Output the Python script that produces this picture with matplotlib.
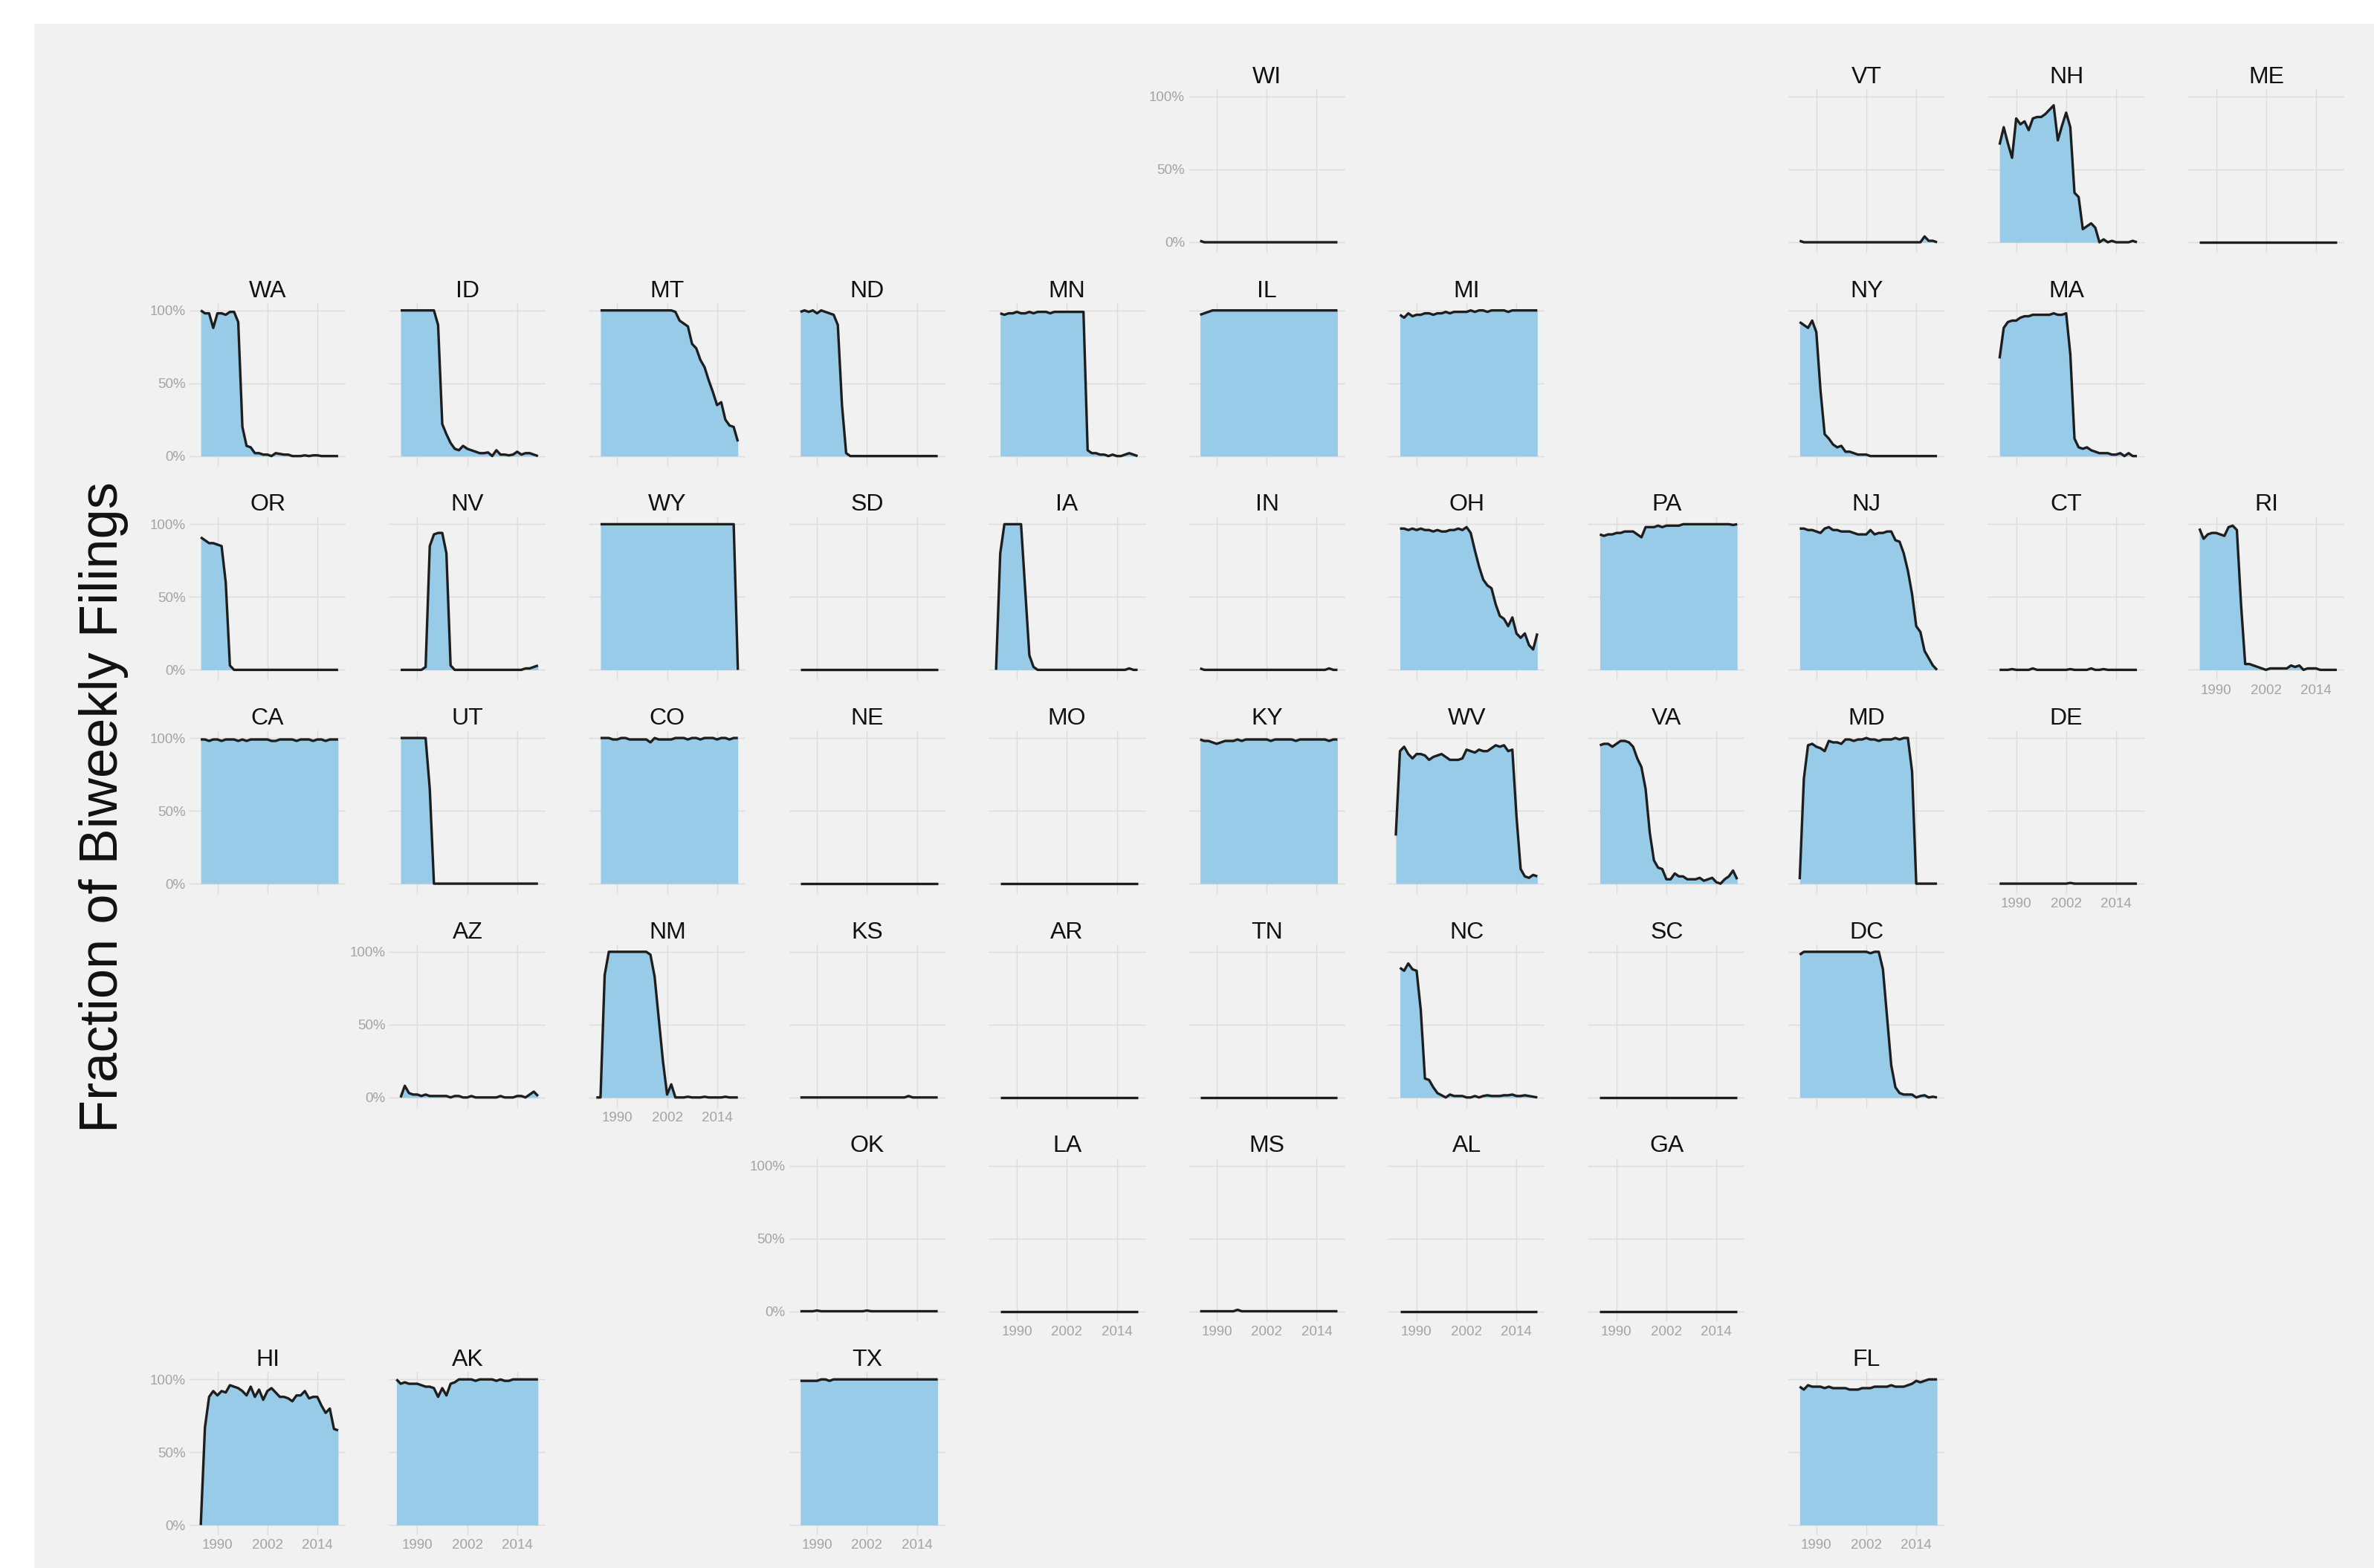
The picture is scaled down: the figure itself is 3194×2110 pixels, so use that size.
import numpy as np
import matplotlib
matplotlib.use("Agg")
import matplotlib.pyplot as plt
from matplotlib.patches import Rectangle

# ---------------------------------------------------------------------------
# Data: share of filings made biweekly, one value per year (1985-2019).
# None marks a year with no data for that state.
# ---------------------------------------------------------------------------
YEARS = list(range(1985, 2020))
X_TICKS = [1990, 2002, 2014]
Y_TICKS = [0.0, 0.5, 1.0]
Y_TICK_LABELS = ["0%", "50%", "100%"]
Y_LABEL = "Fraction of Biweekly Filings"

WI = [None, 0.01, 0.0, 0.0, 0.0, 0.0, 0.0, 0.0, 0.0, 0.0, 0.0,
      0.0, 0.0, 0.0, 0.0, 0.0, 0.0, 0.0, 0.0, 0.0, 0.0,
      0.0, 0.0, 0.0, 0.0, 0.0, 0.0, 0.0, 0.0, 0.0, 0.0,
      0.0, 0.0, 0.0, 0.0]
VT = [None, 0.01, 0.0, 0.0, 0.0, 0.0, 0.0, 0.0, 0.0, 0.0, 0.0,
      0.0, 0.0, 0.0, 0.0, 0.0, 0.0, 0.0, 0.0, 0.0, 0.0,
      0.0, 0.0, 0.0, 0.0, 0.0, 0.0, 0.0, 0.0, 0.0, 0.0,
      0.04, 0.01, 0.01, 0.0]
NH = [None, 0.67, 0.79, 0.68, 0.58, 0.85, 0.81, 0.83, 0.77, 0.85, 0.86,
      0.86, 0.88, 0.91, 0.94, 0.70, 0.80, 0.89, 0.79, 0.34, 0.31,
      0.09, 0.11, 0.13, 0.10, 0.0, 0.02, 0.0, 0.01, 0.0, 0.0,
      0.0, 0.0, 0.01, 0.0]
ME = [None, 0.0, 0.0, 0.0, 0.0, 0.0, 0.0, 0.0, 0.0, 0.0, 0.0,
      0.0, 0.0, 0.0, 0.0, 0.0, 0.0, 0.0, 0.0, 0.0, 0.0,
      0.0, 0.0, 0.0, 0.0, 0.0, 0.0, 0.0, 0.0, 0.0, 0.0,
      0.0, 0.0, 0.0, 0.0]
WA = [None, 1.0, 0.98, 0.98, 0.88, 0.98, 0.98, 0.97, 0.99, 0.99, 0.92,
      0.20, 0.07, 0.06, 0.02, 0.02, 0.01, 0.01, 0.0, 0.02, 0.015,
      0.01, 0.01, 0.0, 0.0, 0.0, 0.005, 0.0, 0.005, 0.005, 0.0,
      0.0, 0.0, 0.0, 0.0]
ID = [None, 1.0, 1.0, 1.0, 1.0, 1.0, 1.0, 1.0, 1.0, 1.0, 0.90,
      0.22, 0.15, 0.09, 0.05, 0.04, 0.07, 0.05, 0.04, 0.03, 0.02,
      0.02, 0.025, 0.0, 0.04, 0.01, 0.01, 0.005, 0.01, 0.03, 0.01,
      0.02, 0.02, 0.01, 0.0]
MT = [None, 1.0, 1.0, 1.0, 1.0, 1.0, 1.0, 1.0, 1.0, 1.0, 1.0,
      1.0, 1.0, 1.0, 1.0, 1.0, 1.0, 1.0, 1.0, 0.99, 0.93,
      0.91, 0.89, 0.77, 0.74, 0.66, 0.61, 0.52, 0.44, 0.35, 0.37,
      0.25, 0.21, 0.20, 0.10]
ND = [None, 0.99, 1.0, 0.99, 1.0, 0.98, 1.0, 0.99, 0.98, 0.97, 0.90,
      0.35, 0.02, 0.0, 0.0, 0.0, 0.0, 0.0, 0.0, 0.0, 0.0,
      0.0, 0.0, 0.0, 0.0, 0.0, 0.0, 0.0, 0.0, 0.0, 0.0,
      0.0, 0.0, 0.0, 0.0]
MN = [None, 0.98, 0.97, 0.98, 0.98, 0.99, 0.98, 0.98, 0.99, 0.98, 0.99,
      0.99, 0.99, 0.98, 0.99, 0.99, 0.99, 0.99, 0.99, 0.99, 0.99,
      0.99, 0.04, 0.02, 0.02, 0.01, 0.01, 0.0, 0.01, 0.0, 0.0,
      0.01, 0.02, 0.01, 0.0]
IL = [None, 0.97, 0.98, 0.99, 1.0, 1.0, 1.0, 1.0, 1.0, 1.0, 1.0,
      1.0, 1.0, 1.0, 1.0, 1.0, 1.0, 1.0, 1.0, 1.0, 1.0,
      1.0, 1.0, 1.0, 1.0, 1.0, 1.0, 1.0, 1.0, 1.0, 1.0,
      1.0, 1.0, 1.0, 1.0]
MI = [None, 0.97, 0.95, 0.98, 0.96, 0.97, 0.97, 0.98, 0.98, 0.97, 0.98,
      0.98, 0.99, 0.98, 0.99, 0.99, 0.99, 0.99, 1.0, 0.99, 1.0,
      1.0, 0.99, 1.0, 1.0, 1.0, 1.0, 0.99, 1.0, 1.0, 1.0,
      1.0, 1.0, 1.0, 1.0]
NY = [None, 0.92, 0.90, 0.88, 0.93, 0.85, 0.45, 0.15, 0.12, 0.08, 0.06,
      0.07, 0.03, 0.03, 0.02, 0.01, 0.01, 0.01, 0.0, 0.0, 0.0,
      0.0, 0.0, 0.0, 0.0, 0.0, 0.0, 0.0, 0.0, 0.0, 0.0,
      0.0, 0.0, 0.0, 0.0]
MA = [None, 0.67, 0.88, 0.92, 0.93, 0.93, 0.95, 0.96, 0.96, 0.97, 0.97,
      0.97, 0.97, 0.97, 0.98, 0.97, 0.97, 0.98, 0.70, 0.12, 0.06,
      0.05, 0.06, 0.04, 0.03, 0.02, 0.02, 0.02, 0.01, 0.01, 0.02,
      0.0, 0.02, 0.0, 0.0]
OR = [None, 0.91, 0.89, 0.87, 0.87, 0.86, 0.85, 0.60, 0.03, 0.0, 0.0,
      0.0, 0.0, 0.0, 0.0, 0.0, 0.0, 0.0, 0.0, 0.0, 0.0,
      0.0, 0.0, 0.0, 0.0, 0.0, 0.0, 0.0, 0.0, 0.0, 0.0,
      0.0, 0.0, 0.0, 0.0]
NV = [None, 0.0, 0.0, 0.0, 0.0, 0.0, 0.0, 0.02, 0.85, 0.93, 0.94,
      0.94, 0.80, 0.03, 0.0, 0.0, 0.0, 0.0, 0.0, 0.0, 0.0,
      0.0, 0.0, 0.0, 0.0, 0.0, 0.0, 0.0, 0.0, 0.0, 0.0,
      0.01, 0.01, 0.02, 0.03]
WY = [None, 1.0, 1.0, 1.0, 1.0, 1.0, 1.0, 1.0, 1.0, 1.0, 1.0,
      1.0, 1.0, 1.0, 1.0, 1.0, 1.0, 1.0, 1.0, 1.0, 1.0,
      1.0, 1.0, 1.0, 1.0, 1.0, 1.0, 1.0, 1.0, 1.0, 1.0,
      1.0, 1.0, 1.0, 0.0]
SD = [None, 0.0, 0.0, 0.0, 0.0, 0.0, 0.0, 0.0, 0.0, 0.0, 0.0,
      0.0, 0.0, 0.0, 0.0, 0.0, 0.0, 0.0, 0.0, 0.0, 0.0,
      0.0, 0.0, 0.0, 0.0, 0.0, 0.0, 0.0, 0.0, 0.0, 0.0,
      0.0, 0.0, 0.0, 0.0]
IA = [0.0, 0.80, 1.0, 1.0, 1.0, 1.0, 1.0, 0.55, 0.10, 0.02, 0.0,
      0.0, 0.0, 0.0, 0.0, 0.0, 0.0, 0.0, 0.0, 0.0, 0.0,
      0.0, 0.0, 0.0, 0.0, 0.0, 0.0, 0.0, 0.0, 0.0, 0.0,
      0.0, 0.01, 0.0, 0.0]
IN = [None, 0.01, 0.0, 0.0, 0.0, 0.0, 0.0, 0.0, 0.0, 0.0, 0.0,
      0.0, 0.0, 0.0, 0.0, 0.0, 0.0, 0.0, 0.0, 0.0, 0.0,
      0.0, 0.0, 0.0, 0.0, 0.0, 0.0, 0.0, 0.0, 0.0, 0.0,
      0.0, 0.01, 0.0, 0.0]
OH = [None, 0.97, 0.97, 0.96, 0.97, 0.96, 0.97, 0.96, 0.96, 0.95, 0.96,
      0.95, 0.95, 0.96, 0.96, 0.97, 0.96, 0.98, 0.94, 0.82, 0.71,
      0.62, 0.58, 0.56, 0.45, 0.37, 0.35, 0.30, 0.36, 0.25, 0.22,
      0.25, 0.17, 0.14, 0.25]
PA = [None, 0.93, 0.92, 0.93, 0.93, 0.94, 0.94, 0.95, 0.95, 0.95, 0.93,
      0.91, 0.98, 0.98, 0.98, 0.99, 0.98, 0.99, 0.99, 0.99, 0.99,
      1.0, 1.0, 1.0, 1.0, 1.0, 1.0, 1.0, 1.0, 1.0, 1.0,
      1.0, 1.0, 0.995, 1.0]
NJ = [None, 0.97, 0.97, 0.96, 0.96, 0.95, 0.94, 0.97, 0.98, 0.96, 0.96,
      0.95, 0.95, 0.95, 0.94, 0.93, 0.93, 0.93, 0.96, 0.93, 0.94,
      0.94, 0.95, 0.95, 0.89, 0.88, 0.80, 0.68, 0.52, 0.30, 0.26,
      0.13, 0.08, 0.03, 0.0]
CT = [None, 0.0, 0.0, 0.0, 0.005, 0.0, 0.0, 0.0, 0.0, 0.01, 0.0,
      0.0, 0.0, 0.0, 0.0, 0.0, 0.0, 0.0, 0.005, 0.0, 0.0,
      0.0, 0.0, 0.01, 0.0, 0.0, 0.005, 0.0, 0.0, 0.0, 0.0,
      0.0, 0.0, 0.0, 0.0]
RI = [None, 0.97, 0.90, 0.93, 0.94, 0.94, 0.93, 0.92, 0.98, 0.99, 0.96,
      0.45, 0.04, 0.04, 0.03, 0.02, 0.01, 0.0, 0.01, 0.01, 0.01,
      0.01, 0.01, 0.03, 0.02, 0.03, 0.0, 0.01, 0.01, 0.01, 0.0,
      0.0, 0.0, 0.0, 0.0]
CA = [None, 0.99, 0.99, 0.98, 0.99, 0.99, 0.98, 0.99, 0.99, 0.99, 0.98,
      0.99, 0.98, 0.99, 0.99, 0.99, 0.99, 0.99, 0.98, 0.98, 0.99,
      0.99, 0.99, 0.99, 0.98, 0.99, 0.99, 0.99, 0.98, 0.99, 0.99,
      0.98, 0.99, 0.99, 0.99]
UT = [None, 1.0, 1.0, 1.0, 1.0, 1.0, 1.0, 1.0, 0.65, 0.0, 0.0,
      0.0, 0.0, 0.0, 0.0, 0.0, 0.0, 0.0, 0.0, 0.0, 0.0,
      0.0, 0.0, 0.0, 0.0, 0.0, 0.0, 0.0, 0.0, 0.0, 0.0,
      0.0, 0.0, 0.0, 0.0]
CO = [None, 1.0, 1.0, 1.0, 0.99, 0.99, 1.0, 1.0, 0.99, 0.99, 0.99,
      0.99, 0.99, 0.97, 1.0, 0.99, 0.99, 0.99, 0.99, 1.0, 1.0,
      1.0, 0.99, 1.0, 1.0, 0.99, 1.0, 1.0, 1.0, 0.99, 1.0,
      1.0, 0.99, 1.0, 1.0]
NE = [None, 0.0, 0.0, 0.0, 0.0, 0.0, 0.0, 0.0, 0.0, 0.0, 0.0,
      0.0, 0.0, 0.0, 0.0, 0.0, 0.0, 0.0, 0.0, 0.0, 0.0,
      0.0, 0.0, 0.0, 0.0, 0.0, 0.0, 0.0, 0.0, 0.0, 0.0,
      0.0, 0.0, 0.0, 0.0]
MO = [None, 0.0, 0.0, 0.0, 0.0, 0.0, 0.0, 0.0, 0.0, 0.0, 0.0,
      0.0, 0.0, 0.0, 0.0, 0.0, 0.0, 0.0, 0.0, 0.0, 0.0,
      0.0, 0.0, 0.0, 0.0, 0.0, 0.0, 0.0, 0.0, 0.0, 0.0,
      0.0, 0.0, 0.0, 0.0]
KY = [None, 0.99, 0.98, 0.98, 0.97, 0.96, 0.97, 0.98, 0.98, 0.98, 0.99,
      0.98, 0.99, 0.99, 0.99, 0.99, 0.99, 0.99, 0.98, 0.99, 0.99,
      0.99, 0.99, 0.99, 0.98, 0.99, 0.99, 0.99, 0.99, 0.99, 0.99,
      0.99, 0.98, 0.99, 0.99]
WV = [0.33, 0.91, 0.94, 0.89, 0.86, 0.89, 0.89, 0.88, 0.85, 0.87,
      0.88, 0.89, 0.87, 0.85, 0.85, 0.85, 0.86, 0.92, 0.91, 0.90,
      0.92, 0.91, 0.91, 0.93, 0.95, 0.94, 0.95, 0.91, 0.92, 0.46,
      0.10, 0.05, 0.04, 0.06, 0.05]
VA = [None, 0.95, 0.96, 0.96, 0.94, 0.96, 0.98, 0.98, 0.97, 0.94, 0.86,
      0.80, 0.65, 0.35, 0.16, 0.11, 0.10, 0.03, 0.03, 0.07, 0.05,
      0.05, 0.03, 0.03, 0.03, 0.04, 0.02, 0.03, 0.04, 0.01, 0.0,
      0.03, 0.05, 0.09, 0.03]
MD = [None, 0.03, 0.72, 0.95, 0.96, 0.94, 0.93, 0.91, 0.98, 0.97, 0.97,
      0.96, 0.99, 0.99, 0.98, 0.99, 0.99, 1.0, 0.99, 0.99, 0.98,
      0.99, 0.99, 0.99, 1.0, 0.99, 1.0, 1.0, 0.77, 0.0, 0.0,
      0.0, 0.0, 0.0, 0.0]
DE = [None, 0.0, 0.0, 0.0, 0.0, 0.0, 0.0, 0.0, 0.0, 0.0, 0.0,
      0.0, 0.0, 0.0, 0.0, 0.0, 0.0, 0.0, 0.005, 0.0, 0.0,
      0.0, 0.0, 0.0, 0.0, 0.0, 0.0, 0.0, 0.0, 0.0, 0.0,
      0.0, 0.0, 0.0, 0.0]
AZ = [None, 0.0, 0.08, 0.03, 0.02, 0.02, 0.01, 0.02, 0.01, 0.01, 0.01,
      0.01, 0.01, 0.0, 0.01, 0.01, 0.0, 0.0, 0.01, 0.0, 0.0,
      0.0, 0.0, 0.0, 0.0, 0.01, 0.0, 0.0, 0.0, 0.01, 0.01,
      0.0, 0.02, 0.04, 0.01]
NM = [0.0, 0.0, 0.84, 1.0, 1.0, 1.0, 1.0, 1.0, 1.0, 1.0, 1.0,
      1.0, 1.0, 0.98, 0.83, 0.54, 0.25, 0.02, 0.09, 0.0, 0.0,
      0.0, 0.005, 0.0, 0.0, 0.0, 0.005, 0.0, 0.0, 0.0, 0.0,
      0.005, 0.0, 0.0, 0.0]
KS = [None, 0.0, 0.0, 0.0, 0.0, 0.0, 0.0, 0.0, 0.0, 0.0, 0.0,
      0.0, 0.0, 0.0, 0.0, 0.0, 0.0, 0.0, 0.0, 0.0, 0.0,
      0.0, 0.0, 0.0, 0.0, 0.0, 0.0, 0.01, 0.0, 0.0, 0.0,
      0.0, 0.0, 0.0, 0.0]
AR = [None, 0.0, 0.0, 0.0, 0.0, 0.0, 0.0, 0.0, 0.0, 0.0, 0.0,
      0.0, 0.0, 0.0, 0.0, 0.0, 0.0, 0.0, 0.0, 0.0, 0.0,
      0.0, 0.0, 0.0, 0.0, 0.0, 0.0, 0.0, 0.0, 0.0, 0.0,
      0.0, 0.0, 0.0, 0.0]
TN = [None, 0.0, 0.0, 0.0, 0.0, 0.0, 0.0, 0.0, 0.0, 0.0, 0.0,
      0.0, 0.0, 0.0, 0.0, 0.0, 0.0, 0.0, 0.0, 0.0, 0.0,
      0.0, 0.0, 0.0, 0.0, 0.0, 0.0, 0.0, 0.0, 0.0, 0.0,
      0.0, 0.0, 0.0, 0.0]
NC = [None, 0.89, 0.87, 0.92, 0.88, 0.87, 0.60, 0.13, 0.12, 0.07, 0.03,
      0.015, 0.0, 0.02, 0.01, 0.01, 0.01, 0.0, 0.0, 0.01, 0.0,
      0.01, 0.015, 0.01, 0.01, 0.01, 0.015, 0.015, 0.02, 0.01, 0.01,
      0.015, 0.01, 0.005, 0.0]
SC = [None, 0.0, 0.0, 0.0, 0.0, 0.0, 0.0, 0.0, 0.0, 0.0, 0.0,
      0.0, 0.0, 0.0, 0.0, 0.0, 0.0, 0.0, 0.0, 0.0, 0.0,
      0.0, 0.0, 0.0, 0.0, 0.0, 0.0, 0.0, 0.0, 0.0, 0.0,
      0.0, 0.0, 0.0, 0.0]
DC = [None, 0.98, 1.0, 1.0, 1.0, 1.0, 1.0, 1.0, 1.0, 1.0, 1.0,
      1.0, 1.0, 1.0, 1.0, 1.0, 1.0, 1.0, 0.99, 1.0, 1.0,
      0.88, 0.55, 0.22, 0.07, 0.03, 0.02, 0.02, 0.02, 0.0, 0.01,
      0.015, 0.0, 0.005, 0.0]
OK = [None, 0.0, 0.0, 0.0, 0.0, 0.005, 0.0, 0.0, 0.0, 0.0, 0.0,
      0.0, 0.0, 0.0, 0.0, 0.0, 0.0, 0.005, 0.0, 0.0, 0.0,
      0.0, 0.0, 0.0, 0.0, 0.0, 0.0, 0.0, 0.0, 0.0, 0.0,
      0.0, 0.0, 0.0, 0.0]
LA = [None, 0.0, 0.0, 0.0, 0.0, 0.0, 0.0, 0.0, 0.0, 0.0, 0.0,
      0.0, 0.0, 0.0, 0.0, 0.0, 0.0, 0.0, 0.0, 0.0, 0.0,
      0.0, 0.0, 0.0, 0.0, 0.0, 0.0, 0.0, 0.0, 0.0, 0.0,
      0.0, 0.0, 0.0, 0.0]
MS = [None, 0.0, 0.0, 0.0, 0.0, 0.0, 0.0, 0.0, 0.0, 0.0, 0.01,
      0.0, 0.0, 0.0, 0.0, 0.0, 0.0, 0.0, 0.0, 0.0, 0.0,
      0.0, 0.0, 0.0, 0.0, 0.0, 0.0, 0.0, 0.0, 0.0, 0.0,
      0.0, 0.0, 0.0, 0.0]
AL = [None, 0.0, 0.0, 0.0, 0.0, 0.0, 0.0, 0.0, 0.0, 0.0, 0.0,
      0.0, 0.0, 0.0, 0.0, 0.0, 0.0, 0.0, 0.0, 0.0, 0.0,
      0.0, 0.0, 0.0, 0.0, 0.0, 0.0, 0.0, 0.0, 0.0, 0.0,
      0.0, 0.0, 0.0, 0.0]
GA = [None, 0.0, 0.0, 0.0, 0.0, 0.0, 0.0, 0.0, 0.0, 0.0, 0.0,
      0.0, 0.0, 0.0, 0.0, 0.0, 0.0, 0.0, 0.0, 0.0, 0.0,
      0.0, 0.0, 0.0, 0.0, 0.0, 0.0, 0.0, 0.0, 0.0, 0.0,
      0.0, 0.0, 0.0, 0.0]
HI = [None, 0.0, 0.67, 0.88, 0.92, 0.89, 0.92, 0.91, 0.96, 0.95, 0.94,
      0.92, 0.89, 0.95, 0.88, 0.93, 0.86, 0.92, 0.94, 0.91, 0.88,
      0.88, 0.87, 0.85, 0.89, 0.89, 0.92, 0.87, 0.88, 0.88, 0.82,
      0.77, 0.80, 0.66, 0.65]
AK = [1.0, 0.97, 0.98, 0.97, 0.97, 0.97, 0.96, 0.95, 0.95, 0.94,
      0.88, 0.94, 0.89, 0.97, 0.98, 1.0, 1.0, 1.0, 1.0, 0.99,
      1.0, 1.0, 1.0, 1.0, 0.99, 1.0, 0.99, 0.99, 1.0, 1.0,
      1.0, 1.0, 1.0, 1.0, 1.0]
TX = [None, 0.99, 0.99, 0.99, 0.99, 0.99, 1.0, 1.0, 0.99, 1.0, 1.0,
      1.0, 1.0, 1.0, 1.0, 1.0, 1.0, 1.0, 1.0, 1.0, 1.0,
      1.0, 1.0, 1.0, 1.0, 1.0, 1.0, 1.0, 1.0, 1.0, 1.0,
      1.0, 1.0, 1.0, 1.0]
FL = [None, 0.95, 0.93, 0.96, 0.95, 0.95, 0.95, 0.94, 0.95, 0.94, 0.94,
      0.94, 0.94, 0.93, 0.93, 0.93, 0.94, 0.94, 0.94, 0.95, 0.95,
      0.95, 0.95, 0.96, 0.95, 0.95, 0.95, 0.96, 0.97, 0.99, 0.98,
      0.99, 1.0, 1.0, 1.0]

# Tile-grid placement of each state: (abbreviation, row, column)
GRID = [
    ("WI", 0, 5), ("VT", 0, 8), ("NH", 0, 9), ("ME", 0, 10),
    ("WA", 1, 0), ("ID", 1, 1), ("MT", 1, 2), ("ND", 1, 3), ("MN", 1, 4),
    ("IL", 1, 5), ("MI", 1, 6), ("NY", 1, 8), ("MA", 1, 9),
    ("OR", 2, 0), ("NV", 2, 1), ("WY", 2, 2), ("SD", 2, 3), ("IA", 2, 4),
    ("IN", 2, 5), ("OH", 2, 6), ("PA", 2, 7), ("NJ", 2, 8), ("CT", 2, 9),
    ("RI", 2, 10),
    ("CA", 3, 0), ("UT", 3, 1), ("CO", 3, 2), ("NE", 3, 3), ("MO", 3, 4),
    ("KY", 3, 5), ("WV", 3, 6), ("VA", 3, 7), ("MD", 3, 8), ("DE", 3, 9),
    ("AZ", 4, 1), ("NM", 4, 2), ("KS", 4, 3), ("AR", 4, 4), ("TN", 4, 5),
    ("NC", 4, 6), ("SC", 4, 7), ("DC", 4, 8),
    ("OK", 5, 3), ("LA", 5, 4), ("MS", 5, 5), ("AL", 5, 6), ("GA", 5, 7),
    ("HI", 6, 0), ("AK", 6, 1), ("TX", 6, 3), ("FL", 6, 8),
]

SERIES = {
    "WI": WI, "VT": VT, "NH": NH, "ME": ME, "WA": WA, "ID": ID, "MT": MT,
    "ND": ND, "MN": MN, "IL": IL, "MI": MI, "NY": NY, "MA": MA, "OR": OR,
    "NV": NV, "WY": WY, "SD": SD, "IA": IA, "IN": IN, "OH": OH, "PA": PA,
    "NJ": NJ, "CT": CT, "RI": RI, "CA": CA, "UT": UT, "CO": CO, "NE": NE,
    "MO": MO, "KY": KY, "WV": WV, "VA": VA, "MD": MD, "DE": DE, "AZ": AZ,
    "NM": NM, "KS": KS, "AR": AR, "TN": TN, "NC": NC, "SC": SC, "DC": DC,
    "OK": OK, "LA": LA, "MS": MS, "AL": AL, "GA": GA, "HI": HI, "AK": AK,
    "TX": TX, "FL": FL,
}
for _k, _v in SERIES.items():
    assert len(_v) == len(YEARS), _k

# ---------------------------------------------------------------------------
# Styling
# ---------------------------------------------------------------------------
plt.rcParams["font.family"] = ["Liberation Sans", "DejaVu Sans"]

W, H, DPI = 3194, 2110, 100
BG = "#F1F1F1"
FILL = "#97CBE7"
LINE = "#1E1E1E"
GRIDC = "#DCDCDC"
TICKC = "#A3A3A3"

XLIM = (1983.3, 2020.8)
YLIM = (-0.07, 1.05)

COL0_X = 360.0      # centre of the first column, px
COL_STEP = 268.9    # column spacing, px
PANEL_W = 210.0     # panel width, px
ROW0_TOP = 130.0    # y of the 100% line in the first row, px
ROW_STEP = 287.7    # row spacing, px
UNIT_H = 196.0      # px between the 0% and 100% lines

fig = plt.figure(figsize=(W / DPI, H / DPI), dpi=DPI, facecolor="white")
fig.patches.append(Rectangle((46 / W, 0), 1 - 46 / W, (H - 32) / H,
                             transform=fig.transFigure, facecolor=BG,
                             edgecolor="none", zorder=-10))

first_in_row = {}
last_in_col = {}
for st, r, c in GRID:
    first_in_row[r] = min(first_in_row.get(r, 99), c)
    last_in_col[c] = max(last_in_col.get(c, -1), r)

years = np.array(YEARS, dtype=float)
panel_h = UNIT_H * (YLIM[1] - YLIM[0])
for st, r, c in GRID:
    cx = COL0_X + COL_STEP * c
    left = cx - PANEL_W / 2
    top = ROW0_TOP + ROW_STEP * r - UNIT_H * (YLIM[1] - 1.0)
    ax = fig.add_axes([left / W, 1 - (top + panel_h) / H, PANEL_W / W, panel_h / H])
    ax.set_facecolor("none")
    vals = np.array([np.nan if v is None else v for v in SERIES[st]])
    ok = ~np.isnan(vals)
    ax.fill_between(years[ok], 0, vals[ok], color=FILL, lw=0, zorder=2)
    ax.plot(years[ok], vals[ok], color=LINE, lw=2.4, solid_joinstyle="round",
            solid_capstyle="butt", zorder=3)
    ax.set_xlim(*XLIM)
    ax.set_ylim(*YLIM)
    ax.set_xticks(X_TICKS)
    ax.set_yticks(Y_TICKS)
    ax.grid(True, color=GRIDC, lw=1.0, zorder=0)
    ax.set_axisbelow(True)
    for sp in ax.spines.values():
        sp.set_visible(False)
    ax.tick_params(length=0, labelsize=13.5, labelcolor=TICKC, pad=4)
    if c == first_in_row[r]:
        ax.set_yticklabels(Y_TICK_LABELS)
    else:
        ax.set_yticklabels([])
    if r == last_in_col[c]:
        ax.set_xticklabels([str(x) for x in X_TICKS])
    else:
        ax.set_xticklabels([])
    ax.set_title(st, fontsize=23, color="#111111", pad=6)

fig.text(140 / W, 1 - 1086 / H, Y_LABEL, rotation=90, fontsize=52,
         ha="center", va="center", color="#111111")

fig.savefig("out.png", dpi=DPI, facecolor="white")
